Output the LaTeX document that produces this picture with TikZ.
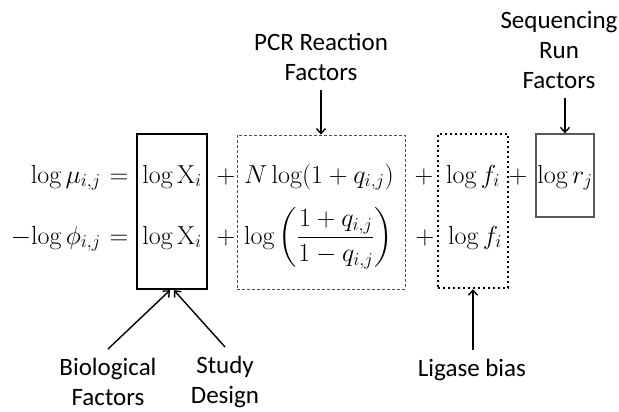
\documentclass[tikz,border=0pt]{standalone}
\usepackage{fix-cm}
\usepackage{amsmath}
\usepackage{fontspec}
\newfontfamily\lblfont{Carlito}
\usepackage{tikz}
\usetikzlibrary{arrows.meta,positioning}

\newcommand{\eqsize}{\fontsize{26}{31}\selectfont}

\begin{document}
\begin{tikzpicture}[
  x=1pt, y=-1pt,
  term/.style={anchor=base, inner sep=0pt, font=\eqsize},
  lbl/.style={align=center, inner sep=9pt, font=\lblfont\fontsize{25}{30}\selectfont},
  biobox/.style={draw, line width=2.4pt},
  pcrbox/.style={draw=black!70, dashed, dash pattern=on 3pt off 2pt, line width=0.8pt},
  ligbox/.style={draw, line width=2.4pt, dash pattern=on 2.4pt off 2.6pt},
  runbox/.style={draw=black!65, line width=1.2pt},
  arr/.style={-{Straight Barb[length=5pt, width=9pt]}, line width=1.4pt}
]
\useasboundingbox (0,0) rectangle (619,412);

% ---------- Boxes around the factor columns ----------
\node[biobox, minimum width=70pt, minimum height=155pt] (bio) at (172,211.5) {};
\node[pcrbox, minimum width=168pt, minimum height=154pt] (pcr) at (321,212) {};
\node[ligbox, minimum width=70pt, minimum height=154pt] (lig) at (473,211) {};
\node[runbox, minimum width=58pt, minimum height=83pt] (run) at (565,175.5) {};

% ---------- Row 1: mean ----------
\node[term, anchor=base east] (lhsA) at (101,183) {$\log\mu_{i,j}$};
\node[term] (eqA) at (119,183) {$=$};
\node[term] (bioA) at (172,183) {$\log\mathrm{X}_i$};
\node[term] (plusA1) at (226,183) {$+$};
\node[term, anchor=base west] (pcrA) at (244,183) {$N\log(1+q_{i,j})$};
\node[term] (plusA2) at (424,183) {$+$};
\node[term] (ligA) at (473,183) {$\log f_i$};
\node[term] (plusA3) at (518,183) {$+$};
\node[term] (runA) at (565,183) {$\log r_j$};

% ---------- Row 2: dispersion ----------
\node[term, anchor=base east] (lhsB) at (101,244) {$-\!\log\phi_{i,j}$};
\node[term] (eqB) at (119,244) {$=$};
\node[term] (bioB) at (172,244) {$\log\mathrm{X}_i$};
\node[term] (plusB1) at (226,244) {$+$};
\node[term, anchor=base west] (pcrB) at (244,244) {$\log\,\biggl(\dfrac{1+q_{i,j}}{1-q_{i,j}}\biggr)$};
\node[term] (plusB2) at (425,244) {$+$};
\node[term] (ligB) at (475,244) {$\log f_i$};

% ---------- Labels ----------
\node[lbl] (pcrlbl) at (321,57) {PCR Reaction\\Factors};
\node[lbl] (runlbl) at (559,50) {Sequencing\\Run\\Factors};
\node[lbl] (biolbl) at (108,382) {Biological\\Factors};
\node[lbl] (studylbl) at (225,382) {Study\\Design};
\node[lbl] (liglbl) at (472,370) {Ligase bias};

% ---------- Arrows ----------
\draw[arr] (pcrlbl.south) -- (pcr.north);
\draw[arr] (runlbl.south -| run.north) -- (run.north);
\draw[arr] (biolbl.north) -- ([xshift=-2pt]bio.south);
\draw[arr] (studylbl.north) -- ([xshift=2pt]bio.south);
\draw[arr] (liglbl.north -| lig.south) -- (lig.south);

\end{tikzpicture}
\end{document}
